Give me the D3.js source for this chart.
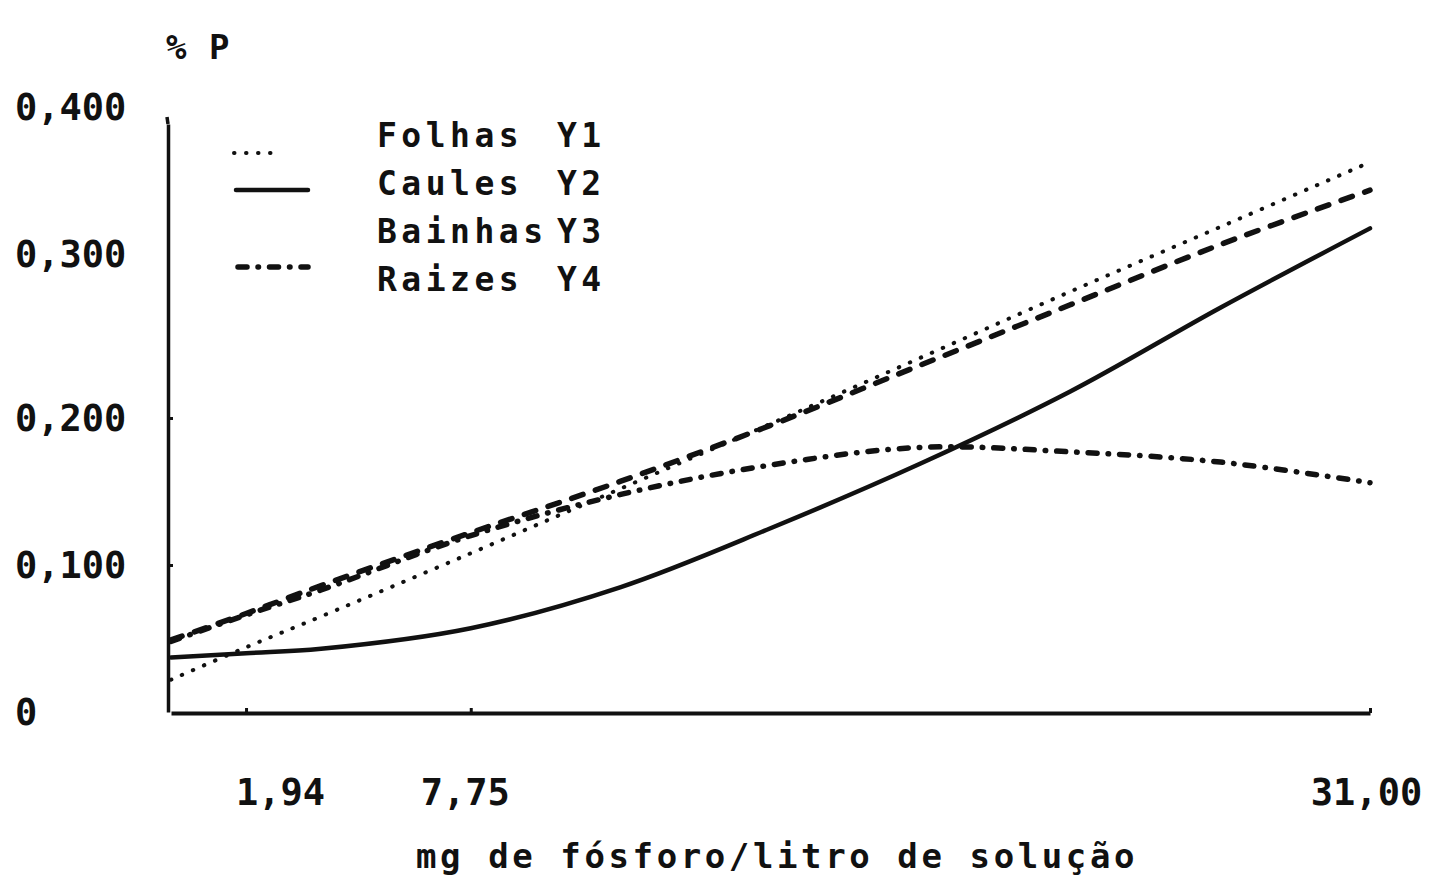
<!DOCTYPE html>
<html>
<head>
<meta charset="utf-8">
<script src="https://cdn.jsdelivr.net/npm/d3@7"></script>
<style>
  body { margin: 0; background: #fff; }
  text { font-family: "DejaVu Sans Mono", monospace; font-weight: bold; fill: #111; }
</style>
</head>
<body>
<div id="chart"></div>
<script>
// x: mg de fosforo / litro de solucao, y: % P
const xValues = [0, 1.94, 3.88, 7.75, 11.63, 15.5, 19.38, 23.25, 27.13, 31];
const folhas  = [0.022, 0.044, 0.065, 0.108, 0.152, 0.196, 0.241, 0.286, 0.330, 0.374];
const caules  = [0.037, 0.040, 0.043, 0.057, 0.085, 0.125, 0.169, 0.218, 0.275, 0.329];
const bainhas = [0.049, 0.067, 0.086, 0.122, 0.157, 0.195, 0.236, 0.277, 0.318, 0.355];
const raizes  = [0.048, 0.066, 0.083, 0.120, 0.148, 0.168, 0.180, 0.177, 0.170, 0.156];

const seriesNames = ["Folhas", "Caules", "Bainhas", "Raizes"];
const seriesCodes = ["Y1", "Y2", "Y3", "Y4"];
const xTicks = [1.94, 7.75, 31];
const yTicks = [0, 0.1, 0.2, 0.3, 0.4];

const width = 1430, height = 887;

const svg = d3.select("#chart").append("svg")
    .attr("width", width)
    .attr("height", height);

const x = d3.scaleLinear().domain([0, 31]).range([171, 1370]);
const y = d3.scaleLinear().domain([0, 0.4]).range([712, 124]);

const fmt = d => d === 0 ? "0" : d3.format(".3f")(d).replace(".", ",");

// y axis
const yAxis = svg.append("g")
    .attr("transform", `translate(${x(0) - 3},0)`)
    .call(d3.axisLeft(y).tickValues(yTicks).tickFormat(fmt).tickSizeInner(-5).tickSizeOuter(0));
yAxis.select(".domain").attr("stroke", "#111").attr("stroke-width", 3.5);
yAxis.selectAll(".tick line").attr("stroke", "#111").attr("stroke-width", 3)
    .style("display", d => (d === 0.1 || d === 0.2) ? null : "none");
yAxis.selectAll(".tick text")
    .attr("text-anchor", "start")
    .attr("x", 15 - (x(0) - 3))
    .attr("dy", d => d >= 0.3 ? "-0.12em" : "0.35em")
    .style("font-size", "37px")
    .style("font-family", "DejaVu Sans Mono")
    .style("font-weight", "bold")
    .attr("fill", "#111");
svg.append("line")
    .attr("x1", x(0) - 4).attr("x2", x(0) - 3)
    .attr("y1", 117).attr("y2", y(0.4))
    .attr("stroke", "#111").attr("stroke-width", 3.5);

// x axis
const xAxis = svg.append("g")
    .attr("transform", `translate(0,${y(0) + 1})`)
    .call(d3.axisBottom(x).tickValues(xTicks).tickFormat(d => d3.format(".2f")(d).replace(".", ","))
        .tickSizeInner(-5).tickSizeOuter(0).tickPadding(66));
xAxis.select(".domain").attr("stroke", "#111").attr("stroke-width", 4);
xAxis.selectAll(".tick line").attr("stroke", "#111").attr("stroke-width", 3);
xAxis.selectAll(".tick text")
    .attr("dx", d => d === 1.94 ? 34 : (d === 31 ? -4 : -6))
    .style("font-size", "37px")
    .style("font-family", "DejaVu Sans Mono")
    .style("font-weight", "bold")
    .attr("fill", "#111");

// titles
svg.append("text")
    .attr("x", 166).attr("y", 59)
    .style("font-size", "34px")
    .attr("letter-spacing", 1)
    .text("% P");

svg.append("text")
    .attr("x", 777).attr("y", 868)
    .attr("text-anchor", "middle")
    .style("font-size", "34px")
    .attr("letter-spacing", 3.6)
    .text("mg de fósforo/litro de solução");

// curves
const styles = {
    Folhas:  { dash: "0.5,11.5", width: 4 },
    Caules:  { dash: null, width: 4.5 },
    Bainhas: { dash: "12,13", width: 5.5 },
    Raizes:  { dash: "9,11,0.5,11", width: 5.5 }
};
const allSeries = [folhas, caules, bainhas, raizes];

const line = d3.line()
    .x(d => x(d[0]))
    .y(d => y(d[1]))
    .curve(d3.curveCatmullRom.alpha(0.5));

svg.selectAll("path.curve")
    .data(seriesNames)
    .enter()
    .append("path")
    .attr("class", "curve")
    .attr("d", (name, i) => line(xValues.map((v, j) => [v, allSeries[i][j]])))
    .attr("fill", "none")
    .attr("stroke", "#111")
    .attr("stroke-width", name => styles[name].width)
    .attr("stroke-linecap", "round")
    .attr("stroke-dasharray", name => styles[name].dash);

// legend
const legendRows = [
    { y: 147, sx1: 234, sx2: 280, sy: 153 },
    { y: 195, sx1: 236, sx2: 308, sy: 190 },
    { y: 243, sx1: null, sx2: null, sy: null },
    { y: 291, sx1: 238, sx2: 308, sy: 267 }
];

const legend = svg.append("g");
seriesNames.forEach((name, i) => {
    const r = legendRows[i];
    if (r.sx1 !== null) {
        legend.append("line")
            .attr("x1", r.sx1).attr("x2", r.sx2)
            .attr("y1", r.sy).attr("y2", r.sy)
            .attr("stroke", "#111")
            .attr("stroke-width", styles[name].width)
            .attr("stroke-linecap", "round")
            .attr("stroke-dasharray", styles[name].dash);
    }
    legend.append("text")
        .attr("x", 377).attr("y", r.y)
        .style("font-size", "33px")
        .attr("letter-spacing", 4.5)
        .text(name);
    legend.append("text")
        .attr("x", 557).attr("y", r.y)
        .style("font-size", "33px")
        .attr("letter-spacing", 4.5)
        .text(seriesCodes[i]);
});
</script>
</body>
</html>
